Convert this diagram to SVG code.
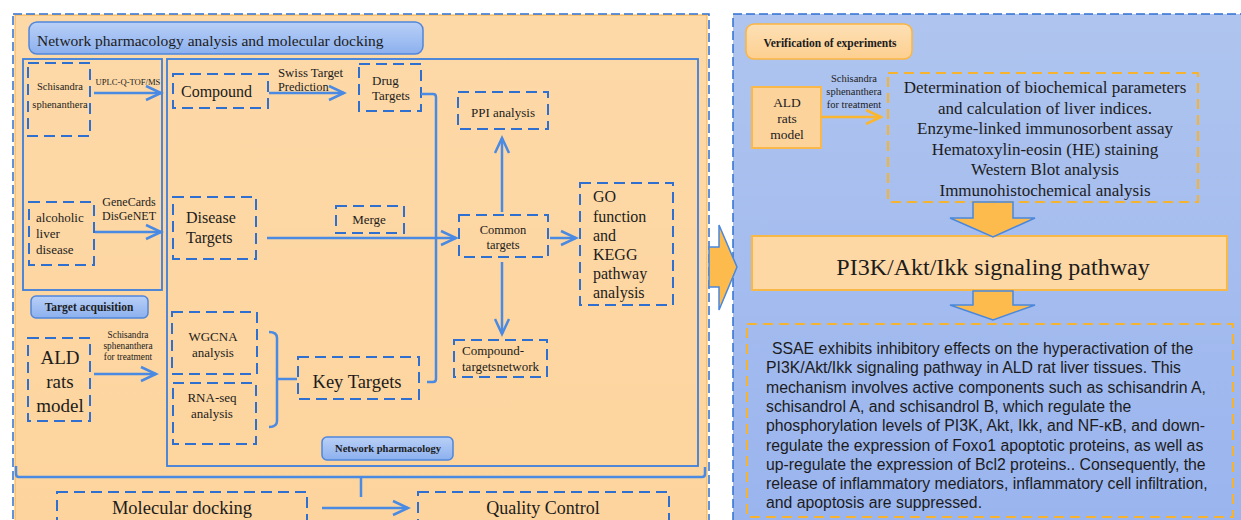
<svg xmlns="http://www.w3.org/2000/svg" width="1241" height="520" viewBox="0 0 1241 520">
<defs>
<linearGradient id="gOr" x1="0" y1="0" x2="0" y2="1"><stop offset="0" stop-color="#fdd9a8"/><stop offset="1" stop-color="#fdd49d"/></linearGradient>
<linearGradient id="gBl" x1="0" y1="0" x2="0" y2="1"><stop offset="0" stop-color="#afc5ef"/><stop offset="1" stop-color="#9ab4ee"/></linearGradient>
<linearGradient id="gHd" x1="0" y1="0" x2="0" y2="1"><stop offset="0" stop-color="#b9d0f7"/><stop offset="1" stop-color="#8cb0ee"/></linearGradient>
<linearGradient id="gVh" x1="0" y1="0" x2="0" y2="1"><stop offset="0" stop-color="#fde0b5"/><stop offset="1" stop-color="#fdcf90"/></linearGradient>
<marker id="ab" markerUnits="userSpaceOnUse" markerWidth="20" markerHeight="20" viewBox="-17 -9 20 18" refX="0" refY="0" orient="auto">
<path d="M-15,-7 L0,0 L-15,7" fill="none" stroke="#4a8ae3" stroke-width="2.5"/>
</marker>
<marker id="ao" markerUnits="userSpaceOnUse" markerWidth="20" markerHeight="20" viewBox="-17 -9 20 18" refX="0" refY="0" orient="auto">
<path d="M-15,-7 L0,0 L-15,7" fill="none" stroke="#fbb630" stroke-width="2.5"/>
</marker>
</defs>
<style>
.sf{font-family:"Liberation Serif","Times New Roman",serif;fill:#1c1c1c}
.ss{font-family:"Liberation Sans",Arial,sans-serif;fill:#1c1c1c}
.b{font-weight:bold}
.dash{fill:none;stroke:#2f6fcf;stroke-width:2;stroke-dasharray:11 6}
.solid{fill:none;stroke:#3c7fdc;stroke-width:1.8}
.conn{fill:none;stroke:#4a8ae3;stroke-width:2.5}
.hdr{fill:url(#gHd);stroke:#4f86dc;stroke-width:1.5}
.blk{fill:#fdba4d;stroke:#4a88dd;stroke-width:1.5}
.c{text-anchor:middle}
</style>

<!-- panels -->
<g id="left-panel">
<rect x="15" y="15" width="692" height="510" fill="url(#gOr)" stroke="#f5b040" stroke-width="1"/>
<rect x="13" y="14" width="696" height="512" fill="none" stroke="#2f6fcf" stroke-width="1.5" stroke-dasharray="9 4"/>
</g>
<g id="right-panel">
<rect x="733" y="14" width="515" height="512" fill="url(#gBl)" stroke="#2f6fcf" stroke-width="1.5" stroke-dasharray="9 4"/>
</g>

<g id="transfer-arrow">
<path class="blk" d="M709,247 L719,247 L719,225 L737,267 L719,310 L719,287 L709,287 Z"/>
</g>

<!-- left section boxes -->
<g id="header">
<rect class="hdr" x="29" y="22" width="394" height="32" rx="8"/>
<text class="sf" x="37" y="46" font-size="15.5">Network pharmacology analysis and molecular docking</text>
</g>
<g id="target-acquisition-frame"><rect class="solid" x="23" y="59" width="139" height="231"/></g>
<g id="network-frame"><rect class="solid" x="167" y="59" width="531" height="407"/></g>

<g id="schisandra">
<rect class="dash" x="28" y="63" width="62" height="73"/>
<text class="sf c" x="60" y="90" font-size="10.5">Schisandra</text>
<text class="sf c" x="60" y="108" font-size="10.5">sphenanthera</text>
</g>
<g id="ald-disease">
<rect class="dash" x="29" y="202" width="65" height="63"/>
<text class="sf" x="36" y="222" font-size="13">alcoholic</text>
<text class="sf" x="36" y="238" font-size="13">liver</text>
<text class="sf" x="36" y="254" font-size="13">disease</text>
</g>
<g id="target-acquisition-label">
<rect class="hdr" x="31" y="296" width="117" height="22" rx="5"/>
<text class="sf b c" x="89" y="311" font-size="11.5">Target acquisition</text>
</g>
<g id="ald-model-left">
<rect class="dash" x="28" y="338" width="62" height="83"/>
<text class="sf c" x="60" y="364" font-size="19">ALD</text>
<text class="sf c" x="60" y="388" font-size="19">rats</text>
<text class="sf c" x="60" y="412" font-size="19">model</text>
</g>
<g id="compound">
<rect class="dash" x="173" y="74" width="95" height="34"/>
<text class="sf" x="181" y="97" font-size="16">Compound</text>
</g>
<g id="drug-targets">
<rect class="dash" x="359" y="64" width="62" height="47"/>
<text class="sf" x="372" y="85" font-size="13">Drug</text>
<text class="sf" x="372" y="100" font-size="13">Targets</text>
</g>
<g id="disease-targets">
<rect class="dash" x="173" y="197" width="83" height="62"/>
<text class="sf" x="186" y="223" font-size="16">Disease</text>
<text class="sf" x="186" y="243" font-size="16">Targets</text>
</g>
<g id="merge">
<rect class="dash" x="336" y="206" width="68" height="27"/>
<text class="sf c" x="369" y="224" font-size="13">Merge</text>
</g>
<g id="ppi">
<rect class="dash" x="458" y="92" width="90" height="37"/>
<text class="sf c" x="503" y="117" font-size="13">PPI analysis</text>
</g>
<g id="common-targets">
<rect class="dash" x="459" y="215" width="89" height="42"/>
<text class="sf c" x="503" y="234" font-size="12.5">Common</text>
<text class="sf c" x="503" y="249" font-size="12.5">targets</text>
</g>
<g id="go-kegg">
<rect class="dash" x="580" y="183" width="93" height="122"/>
<text class="sf" x="593" y="202" font-size="16">GO</text>
<text class="sf" x="593" y="222" font-size="16">function</text>
<text class="sf" x="593" y="241" font-size="16">and</text>
<text class="sf" x="593" y="260" font-size="16">KEGG</text>
<text class="sf" x="593" y="279" font-size="16">pathway</text>
<text class="sf" x="593" y="298" font-size="16">analysis</text>
</g>
<g id="compound-targets-network">
<rect class="dash" x="454" y="340" width="93" height="37"/>
<text class="sf" x="462" y="355" font-size="13">Compound-</text>
<text class="sf" x="462" y="371" font-size="13">targetsnetwork</text>
</g>
<g id="wgcna">
<rect class="dash" x="172" y="312" width="85" height="62"/>
<text class="sf c" x="213" y="341" font-size="13">WGCNA</text>
<text class="sf c" x="213" y="357" font-size="13">analysis</text>
</g>
<g id="rnaseq">
<rect class="dash" x="173" y="383" width="83" height="61"/>
<text class="sf c" x="212" y="402" font-size="13">RNA-seq</text>
<text class="sf c" x="212" y="418" font-size="13">analysis</text>
</g>
<g id="key-targets">
<rect class="dash" x="298" y="357" width="121" height="42"/>
<text class="sf c" x="357" y="388" font-size="18.5">Key Targets</text>
</g>
<g id="network-label">
<rect class="hdr" x="322" y="437" width="131" height="23" rx="5"/>
<text class="sf b c" x="388" y="452" font-size="10.5">Network pharmacology</text>
</g>
<g id="molecular-docking">
<rect class="dash" x="57" y="492" width="250" height="40"/>
<text class="sf c" x="182" y="514" font-size="18.5">Molecular docking</text>
</g>
<g id="quality-control">
<rect class="dash" x="418" y="492" width="251" height="40"/>
<text class="sf c" x="543" y="514" font-size="18">Quality Control</text>
</g>

<!-- right section -->
<g id="verification-label">
<rect x="746" y="24" width="166" height="35" rx="8" fill="url(#gVh)" stroke="#fbb540" stroke-width="1.5"/>
<text class="sf b c" x="830" y="47" font-size="11.5">Verification of experiments</text>
</g>
<g id="ald-model-right">
<rect x="752" y="87" width="69" height="61" fill="#fdd39c" stroke="#fbb84a" stroke-width="2"/>
<text class="sf c" x="787" y="107" font-size="13.5">ALD</text>
<text class="sf c" x="787" y="123" font-size="13.5">rats</text>
<text class="sf c" x="787" y="139" font-size="13.5">model</text>
</g>
<g id="experiments">
<rect x="888" y="73" width="310" height="129" fill="none" stroke="#f6b32f" stroke-width="2" stroke-dasharray="10 6"/>
<text class="sf c" x="1045" y="93" font-size="17">Determination of biochemical parameters</text>
<text class="sf c" x="1045" y="113.5" font-size="17">and calculation of liver indices.</text>
<text class="sf c" x="1045" y="134" font-size="17">Enzyme-linked immunosorbent assay</text>
<text class="sf c" x="1045" y="154.5" font-size="17">Hematoxylin-eosin (HE) staining</text>
<text class="sf c" x="1045" y="175" font-size="17">Western Blot analysis</text>
<text class="sf c" x="1045" y="195.5" font-size="17">Immunohistochemical analysis</text>
</g>
<g id="pathway">
<rect x="752" y="236" width="475" height="54" fill="#fdd8a5" stroke="#f8b848" stroke-width="2"/>
<text class="sf c" x="993" y="275" font-size="24">PI3K/Akt/Ikk signaling pathway</text>
</g>
<g id="conclusion">
<rect x="747" y="324" width="486" height="193" fill="none" stroke="#f6b32f" stroke-width="2" stroke-dasharray="10 6"/>
<text class="ss" font-size="15.8">
<tspan x="772" y="354">SSAE exhibits inhibitory effects on the hyperactivation of the</tspan>
<tspan x="766" y="373.3">PI3K/Akt/Ikk signaling pathway in ALD rat liver tissues. This</tspan>
<tspan x="766" y="392.6">mechanism involves active components such as schisandrin A,</tspan>
<tspan x="766" y="411.9">schisandrol A, and schisandrol B, which regulate the</tspan>
<tspan x="766" y="431.2">phosphorylation levels of PI3K, Akt, Ikk, and NF-κB, and down-</tspan>
<tspan x="766" y="450.5">regulate the expression of Foxo1 apoptotic proteins, as well as</tspan>
<tspan x="766" y="469.8">up-regulate the expression of Bcl2 proteins.. Consequently, the</tspan>
<tspan x="766" y="489.1">release of inflammatory mediators, inflammatory cell infiltration,</tspan>
<tspan x="766" y="508.4">and apoptosis are suppressed.</tspan>
</text>
</g>
<g id="block-arrows">
<path class="blk" d="M973,202 L1013,202 L1013,218 L1035,218 L993,237 L950,218 L973,218 Z"/>
<path class="blk" d="M973,291 L1013,291 L1013,305 L1035,305 L993,320 L950,305 L973,305 Z"/>
</g>

<!-- connectors -->
<g id="connectors">
<path class="conn" d="M94,93 L161,93" marker-end="url(#ab)"/>
<path class="conn" d="M95,232 L161,232" marker-end="url(#ab)"/>
<path class="conn" d="M94,374 L156,374" marker-end="url(#ab)"/>
<path class="conn" d="M269,93 L344,93" marker-end="url(#ab)"/>
<path class="conn" d="M267,238 L456,238" marker-end="url(#ab)"/>
<path class="conn" d="M550,238 L576,238" marker-end="url(#ab)"/>
<path class="conn" d="M502,212 L502,138" marker-end="url(#ab)"/>
<path class="conn" d="M502,262 L502,334" marker-end="url(#ab)"/>
<path class="conn" d="M322,508 L408,508" marker-end="url(#ab)"/>
<path class="conn" d="M421,94 L433,94 Q436,94 436,97 L436,379 Q436,382 433,382 L427,382"/>
<path class="conn" d="M269,332 Q277,332 277,338 L277,421 Q277,427 269,427 M277,379 L297,379"/>
<path class="conn" stroke-width="2" d="M16,466 L16,474 Q16,477 19,477 L702,477 Q705,477 705,474 L705,467 M361,477 L361,497"/>
<path d="M821,117 L881,117" fill="none" stroke="#fbb630" stroke-width="2.5" marker-end="url(#ao)"/>
<text class="sf c" x="128" y="85" font-size="8.6">UPLC-Q-TOF/MS</text>
<text class="sf c" x="129" y="206" font-size="12">GeneCards</text>
<text class="sf c" x="129" y="220" font-size="12">DisGeNET</text>
<text class="sf c" x="128" y="338" font-size="9.3">Schisandra</text>
<text class="sf c" x="128" y="349" font-size="9.3">sphenanthera</text>
<text class="sf c" x="128" y="360" font-size="9.3">for treatment</text>
<text class="sf" x="278" y="77" font-size="12.8">Swiss Target</text>
<text class="sf" x="278" y="91" font-size="12.3">Prediction</text>
<text class="sf c" x="854" y="82" font-size="10.5">Schisandra</text>
<text class="sf c" x="854" y="95" font-size="10.5">sphenanthera</text>
<text class="sf c" x="854" y="108" font-size="10.5">for treatment</text>
</g>
</svg>
